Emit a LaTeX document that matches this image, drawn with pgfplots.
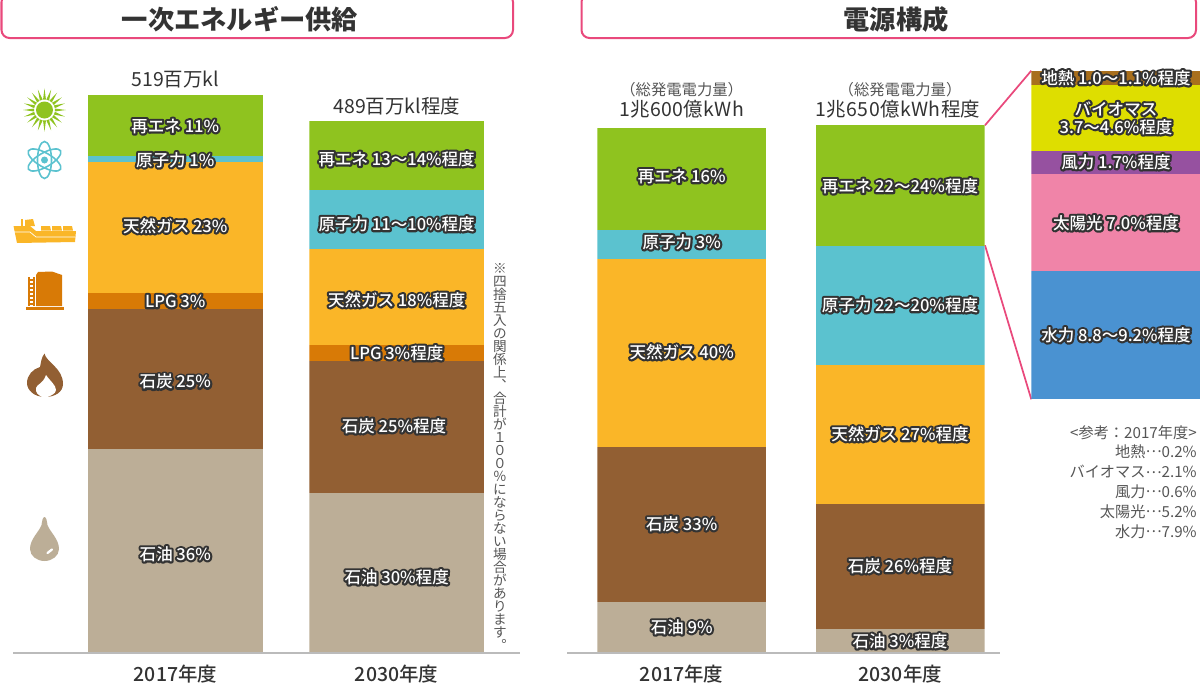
\documentclass[border=0pt]{standalone}
\usepackage{fontspec}
\usepackage{pgfplots}
\pgfplotsset{compat=1.18}
\setmainfont{Noto Sans CJK JP}
\newfontfamily\cjkmed{Noto Sans CJK JP Medium}
\definecolor{cRen}{HTML}{8FC31F}
\definecolor{cNuc}{HTML}{5BC2CF}
\definecolor{cGas}{HTML}{FAB628}
\definecolor{cLpg}{HTML}{D87A06}
\definecolor{cCoal}{HTML}{925F33}
\definecolor{cOil}{HTML}{BCAE97}
\definecolor{cGeo}{HTML}{A86F1D}
\definecolor{cBio}{HTML}{DEDE00}
\definecolor{cWind}{HTML}{9651A0}
\definecolor{cSolar}{HTML}{F084A8}
\definecolor{cHydro}{HTML}{4A92D1}
\definecolor{cPink}{HTML}{E9497C}
\definecolor{cText}{HTML}{333333}
\definecolor{cGrey}{HTML}{555555}
\definecolor{cBase}{HTML}{BBBBBB}
\pgfplotsset{
  barax/.style 2 args={
    scale only axis, width=#1*0.75pt, height=#2*0.75pt, bar width=#1*0.75pt,
    anchor=south west, ybar stacked, xmin=-0.5, xmax=0.5, ymin=0, ymax=100,
    axis y line=none, axis x line*=bottom, x axis line style={draw=none},
    ytick=\empty, xtick={0}, major tick length=0pt,
    xticklabel style={font=\fontsize{14.6}{17}\cjkmed, text=cText, anchor=center, yshift=-17.5pt, text height=10pt, text depth=2pt},
  },
  seg/.style={fill=#1, draw=none},
}
\newcommand\lab[3]{%
  \node[text=black, inner sep=0pt, text height=9pt, text depth=2pt, align=center] at (#1,#2+1.5) {\fontsize{12.4}{14}\cjkmed\special{pdf:code q 1 j 1 Tr 3.2 w 0.2 0.2 0.2 RG}#3\special{pdf:code Q}};
  \node[text=white, inner sep=0pt, text height=9pt, text depth=2pt, align=center] at (#1,#2+1.5) {\fontsize{12.4}{14}\cjkmed #3};}
\newcommand\dd{\raisebox{0.32em}{…}}
\begin{document}
\begin{tikzpicture}[x=0.75pt,y=-0.75pt]
\path[use as bounding box] (0,0) rectangle (1200,689);
% title boxes
\draw[cPink, line width=1.5pt, rounded corners=6pt] (1.5,-6) rectangle (513,38);
\draw[cPink, line width=1.5pt, rounded corners=6pt] (581.5,-6) rectangle (1196,38);
\node[text=cText, inner sep=0pt] at (240,19.5) {\fontsize{19.7}{22}\selectfont\bfseries 一次エネルギー供給};
\node[text=cText, inner sep=0pt] at (896,19.5) {\fontsize{19.7}{22}\selectfont\bfseries 電源構成};
% connector lines
\draw[cPink, line width=1.3pt] (985,125.3) -- (1031.3,70.7);
\draw[cPink, line width=1.3pt] (985,245.3) -- (1031.3,399.3);
% primary energy 2017
\begin{axis}[barax={175}{558}, at={(88*0.75pt,-652.5*0.75pt)}, xticklabels={2017年度}]
\addplot[seg=cOil] coordinates {(0,36.4)};
\addplot[seg=cCoal] coordinates {(0,25.1)};
\addplot[seg=cLpg] coordinates {(0,3.0)};
\addplot[seg=cGas] coordinates {(0,23.4)};
\addplot[seg=cNuc] coordinates {(0,1.0)};
\addplot[seg=cRen] coordinates {(0,11.1)};
\end{axis}
% primary energy 2030
\begin{axis}[barax={174.7}{531.2}, at={(309.3*0.75pt,-652.5*0.75pt)}, xticklabels={2030年度}]
\addplot[seg=cOil] coordinates {(0,30.0)};
\addplot[seg=cCoal] coordinates {(0,24.9)};
\addplot[seg=cLpg] coordinates {(0,3.0)};
\addplot[seg=cGas] coordinates {(0,18.0)};
\addplot[seg=cNuc] coordinates {(0,11.1)};
\addplot[seg=cRen] coordinates {(0,13.0)};
\end{axis}
% generation 2017
\begin{axis}[barax={168.7}{524.5}, at={(597.3*0.75pt,-652.5*0.75pt)}, xticklabels={2017年度}]
\addplot[seg=cOil] coordinates {(0,9.7)};
\addplot[seg=cCoal] coordinates {(0,29.4)};
\addplot[seg=cGas] coordinates {(0,36.0)};
\addplot[seg=cNuc] coordinates {(0,5.5)};
\addplot[seg=cRen] coordinates {(0,19.4)};
\end{axis}
% generation 2030
\begin{axis}[barax={168.7}{527.2}, at={(816*0.75pt,-652.5*0.75pt)}, xticklabels={2030年度}]
\addplot[seg=cOil] coordinates {(0,4.5)};
\addplot[seg=cCoal] coordinates {(0,23.6)};
\addplot[seg=cGas] coordinates {(0,26.5)};
\addplot[seg=cNuc] coordinates {(0,22.6)};
\addplot[seg=cRen] coordinates {(0,22.8)};
\end{axis}
% renewables breakdown
\begin{axis}[barax={168.7}{328.6}, at={(1031.3*0.75pt,-399.3*0.75pt)}, xtick=\empty]
\addplot[seg=cHydro] coordinates {(0,39.0)};
\addplot[seg=cSolar] coordinates {(0,29.6)};
\addplot[seg=cWind] coordinates {(0,6.9)};
\addplot[seg=cBio] coordinates {(0,20.0)};
\addplot[seg=cGeo] coordinates {(0,4.5)};
\end{axis}
% baselines
\draw[cBase, line width=1.1pt] (13,653) -- (520,653);
\draw[cBase, line width=1.1pt] (567,653) -- (1000,653);
% segment labels
\lab{175.3}{126}{再エネ 11\%}
\lab{175.3}{160}{原子力 1\%}
\lab{175.3}{226}{天然ガス 23\%}
\lab{175.3}{301}{LPG 3\%}
\lab{175.3}{381.5}{石炭 25\%}
\lab{175.3}{554}{石油 36\%}
\lab{396.7}{159}{再エネ 13〜14\%程度}
\lab{396.7}{224}{原子力 11〜10\%程度}
\lab{396.7}{300}{天然ガス 18\%程度}
\lab{396.7}{353}{LPG 3\%程度}
\lab{394}{426}{石炭 25\%程度}
\lab{396.7}{577}{石油 30\%程度}
\lab{681.7}{176}{再エネ 16\%}
\lab{681.7}{242}{原子力 3\%}
\lab{681.7}{352}{天然ガス 40\%}
\lab{681.7}{524}{石炭 33\%}
\lab{681.7}{627}{石油 9\%}
\lab{900}{186}{再エネ 22〜24\%程度}
\lab{900}{305}{原子力 22〜20\%程度}
\lab{900}{434}{天然ガス 27\%程度}
\lab{900}{566}{石炭 26\%程度}
\lab{900}{641}{石油 3\%程度}
\lab{1116}{78}{地熱 1.0〜1.1\%程度}
\lab{1116}{109}{バイオマス}
\lab{1116}{127}{3.7〜4.6\%程度}
\lab{1116}{162}{風力 1.7\%程度}
\lab{1116}{223}{太陽光 7.0\%程度}
\lab{1116}{335}{水力 8.8〜9.2\%程度}
% totals above bars
\node[text=cText, inner sep=0pt] at (175.3,80) {\fontsize{14.6}{17}\selectfont 519百万kl};
\node[text=cText, inner sep=0pt] at (396.7,106) {\fontsize{14.6}{17}\selectfont 489百万kl程度};
\node[text=cGrey, inner sep=0pt] at (681.7,90) {\fontsize{11.5}{13}\selectfont （総発電電力量）};
\node[text=cText, inner sep=0pt] at (681.7,109) {\fontsize{14.6}{17}\addfontfeature{LetterSpace=2}1兆600億kWh};
\node[text=cGrey, inner sep=0pt] at (900,90) {\fontsize{11.5}{13}\selectfont （総発電電力量）};
\node[text=cText, inner sep=0pt] at (898,109) {\fontsize{14.6}{17}\addfontfeature{LetterSpace=2}1兆650億kWh程度};
% reference list
\node[text=cGrey, inner sep=0pt, anchor=east] at (1197,433) {\fontsize{11.4}{13}\selectfont <参考：2017年度>};
\node[text=cGrey, inner sep=0pt, anchor=east] at (1197,452) {\fontsize{11.4}{13}\selectfont 地熱\dd 0.2\%};
\node[text=cGrey, inner sep=0pt, anchor=east] at (1197,472) {\fontsize{11.4}{13}\selectfont バイオマス\dd 2.1\%};
\node[text=cGrey, inner sep=0pt, anchor=east] at (1197,492) {\fontsize{11.4}{13}\selectfont 風力\dd 0.6\%};
\node[text=cGrey, inner sep=0pt, anchor=east] at (1197,512) {\fontsize{11.4}{13}\selectfont 太陽光\dd 5.2\%};
\node[text=cGrey, inner sep=0pt, anchor=east] at (1197,532) {\fontsize{11.4}{13}\selectfont 水力\dd 7.9\%};
% vertical note
\newcommand\vch[1]{\hbox to 10pt{\hss #1\hss}\par}
\node[text=cGrey, inner sep=0pt, anchor=north] at (500,263) {\begin{minipage}{10pt}\fontsize{10.2}{9.75}\selectfont\offinterlineskip\baselineskip=9.75pt\lineskiplimit=-20pt
\vch{※}\vch{四}\vch{捨}\vch{五}\vch{入}\vch{の}\vch{関}\vch{係}\vch{上}\vch{︑}\vch{合}\vch{計}\vch{が}\vch{１}\vch{０}\vch{０}\vch{％}\vch{に}\vch{な}\vch{ら}\vch{な}\vch{い}\vch{場}\vch{合}\vch{が}\vch{あ}\vch{り}\vch{ま}\vch{す}\vch{︒}
\end{minipage}};
% icons: sun
\foreach \a in {0,18,...,342} {
  \fill[cRen] ({44.5+10.5*cos(\a-8)},{110+10.5*sin(\a-8)}) -- ({44.5+21.5*cos(\a)},{110+21.5*sin(\a)}) -- ({44.5+10.5*cos(\a+8)},{110+10.5*sin(\a+8)}) -- cycle;
}
\fill[cRen] (44.5,110) circle (8.5);
% atom
\begin{scope}[shift={(44.5,160)}]
\foreach \r in {30,90,150} \draw[cNuc, line width=1.2pt, rotate=\r] (0,0) ellipse (18.5 and 7);
\fill[cNuc] (0,0) circle (3.5);
\end{scope}
% ship
\fill[cGas] (13.5,226) -- (30,226) -- (36,231) -- (76,231) -- (75,242) -- (17,243) -- cycle;
\fill[cGas] (21,226) -- (21,219) -- (23,219) -- (23,226) -- cycle;
\fill[cGas] (25,226) -- (25,220) -- (33,219) -- (35,226) -- cycle;
\foreach \xx in {41,52,63} \fill[cGas] (\xx,230.5) -- (\xx,226) -- (\xx+9,226) -- (\xx+10,230.5) -- cycle;
\draw[white, line width=0.5pt] (14,232) -- (30,232) -- (36,237) -- (75,237);
% tank
\fill[cLpg] (36,275) -- (38,272) -- (52,271.5) -- (62,275) -- (62,306) -- (36,306) -- cycle;
\fill[cLpg] (26,306.5) rectangle (64,309.5);
\draw[cLpg, line width=0.8pt] (29,277) -- (29,306) (34,277) -- (34,306);
\foreach \yy in {280,284,...,304} \draw[cLpg, line width=0.8pt] (29,\yy) -- (34,\yy);
% flame
\fill[cCoal] (44.5,353.5) .. controls (46,362) and (63,368) .. (63,384) .. controls (63,392) and (55,397) .. (45,397) .. controls (34,397) and (27,390) .. (27,383) .. controls (27,375) and (33,369) .. (40,367) .. controls (41,363) and (41,358) .. (44.5,353.5) -- cycle;
\fill[white] (46,375) .. controls (50,381) and (56,385) .. (56,390) .. controls (56,394) and (50,396) .. (45,398) .. controls (38,396) and (35,392) .. (36,388) .. controls (37,384) and (43,384) .. (46,375) -- cycle;
% drop
\fill[cOil] (44.5,517) .. controls (46.5,517) and (47,522) .. (47.5,525) .. controls (50,532) and (59,539) .. (59,549) .. controls (59,556) and (52,561) .. (44.5,561) .. controls (37,561) and (30,556) .. (30,549) .. controls (30,539) and (39,532) .. (41.5,525) .. controls (42,522) and (42.5,517) .. (44.5,517) -- cycle;
\draw[white, line width=1.7pt, line cap=round] (47.5,553) -- (52,549.5);
\end{tikzpicture}
\end{document}
